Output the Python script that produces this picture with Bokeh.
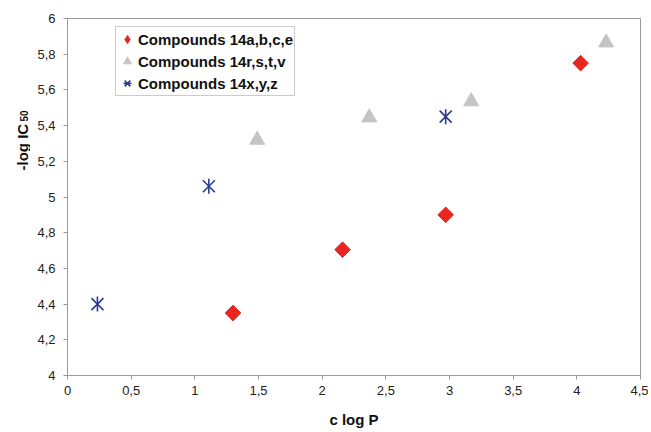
import numpy as np
from bokeh.plotting import figure
from bokeh.layouts import row
from bokeh.models import FixedTicker, CustomJSTickFormatter, Range1d, Label, Legend, LegendItem
from bokeh.embed import file_html
from bokeh.resources import INLINE

# ---- data ----
a_x = [1.30, 2.16, 2.97, 4.03]
a_y = [4.35, 4.705, 4.90, 5.75]
r_x = [1.49, 2.37, 3.17, 4.23]
r_y = [5.32, 5.445, 5.535, 5.865]
z_x = [0.235, 1.11, 2.97]
z_y = [4.40, 5.06, 5.45]

label_a = "Compounds 14a,b,c,e"
label_r = "Compounds 14r,s,t,v"
label_z = "Compounds 14x,y,z"

x_ticks = [0, 0.5, 1, 1.5, 2, 2.5, 3, 3.5, 4, 4.5]
y_ticks = [4, 4.2, 4.4, 4.6, 4.8, 5, 5.2, 5.4, 5.6, 5.8, 6]

x_title = "c log P"
y_title_main = "-log IC"
y_title_sub = "50"

FONT = "Liberation Sans"
AXIS_COL = "#9a9a9a"
RED = "#e8261f"
GRAY = "#c4c4c4"
BLUE = "#2b3a92"

H = 430
TW = 30  # width of the strip holding the y title

# ---- narrow strip with the rotated y title (main text + subscript) ----
t = figure(width=TW, height=H, output_backend="svg", toolbar_location=None,
           x_range=Range1d(0, 1), y_range=Range1d(0, 1),
           x_axis_location=None, y_axis_location=None,
           min_border_left=0, min_border_right=0, min_border_top=0, min_border_bottom=0)
t.outline_line_color = None
t.grid.visible = False
t.background_fill_color = "white"
t.border_fill_color = "white"
t.add_layout(Label(x=22, y=H - 225, x_units="screen", y_units="screen", text=y_title_main,
                   angle=np.pi / 2, text_align="left", text_baseline="alphabetic",
                   text_font=FONT, text_font_size="15px", text_font_style="bold",
                   text_color="#111111"))
t.add_layout(Label(x=23, y=H - 176, x_units="screen", y_units="screen", text=y_title_sub,
                   angle=np.pi / 2, text_align="left", text_baseline="alphabetic",
                   text_font=FONT, text_font_size="10px", text_font_style="bold",
                   text_color="#111111"))

# ---- main chart ----
p = figure(width=648 - TW, height=H, output_backend="svg", toolbar_location=None,
           x_range=Range1d(0, 4.5), y_range=Range1d(4, 6),
           min_border_left=67 - TW, min_border_right=8, min_border_top=18,
           min_border_bottom=H - 375)

p.xgrid.visible = False
p.ygrid.visible = False
p.outline_line_color = AXIS_COL
p.outline_line_width = 1
p.background_fill_color = "white"
p.border_fill_color = "white"

fmt = CustomJSTickFormatter(code="return String(Math.round(tick*10)/10).replace('.', ',');")
p.xaxis.ticker = FixedTicker(ticks=x_ticks)
p.yaxis.ticker = FixedTicker(ticks=y_ticks)
p.xaxis.formatter = fmt
p.yaxis.formatter = fmt

for ax in (p.xaxis[0], p.yaxis[0]):
    ax.axis_line_color = AXIS_COL
    ax.major_tick_line_color = AXIS_COL
    ax.minor_tick_line_color = None
    ax.major_tick_in = 0
    ax.major_tick_out = 4
    ax.major_label_text_font = FONT
    ax.major_label_text_font_size = "13px"
    ax.major_label_text_color = "#222222"
    ax.axis_label_text_font = FONT
    ax.axis_label_text_font_size = "15px"
    ax.axis_label_text_font_style = "bold"
    ax.axis_label_text_color = "#111111"

p.yaxis.major_label_standoff = 8
p.xaxis.major_label_standoff = 6
p.xaxis.axis_label = x_title
p.xaxis.axis_label_standoff = 13

rd = p.scatter(a_x, a_y, marker="diamond", size=15, fill_color=RED, line_color=RED)
ra = p.scatter(a_x, a_y, marker="square", angle=np.pi / 4, size=11,
               fill_color=RED, line_color=RED)
rr = p.scatter(r_x, r_y, marker="triangle", size=15, fill_color=GRAY, line_color=GRAY)
rz1 = p.scatter(z_x, z_y, marker="x", size=17, line_color=BLUE, line_width=1.6)
rz2 = p.scatter(z_x, z_y, marker="dash", angle=np.pi / 2, size=15, line_color=BLUE,
                line_width=1.6)

lg = Legend(items=[LegendItem(label=label_a, renderers=[rd]),
                   LegendItem(label=label_r, renderers=[rr]),
                   LegendItem(label=label_z, renderers=[rz1, rz2])])
p.add_layout(lg, "center")
lg.location = (48, 279)
lg.border_line_color = AXIS_COL
lg.background_fill_color = "white"
lg.background_fill_alpha = 1
lg.label_text_font = FONT
lg.label_text_font_size = "15px"
lg.label_text_font_style = "bold"
lg.label_text_color = "#111111"
lg.spacing = 0
lg.label_height = 22
lg.glyph_height = 22
lg.glyph_width = 20
lg.padding = 1
lg.margin = 0
lg.label_standoff = 1

layout = row(t, p, spacing=0)
open("out.html", "w").write(file_html(layout, INLINE))
